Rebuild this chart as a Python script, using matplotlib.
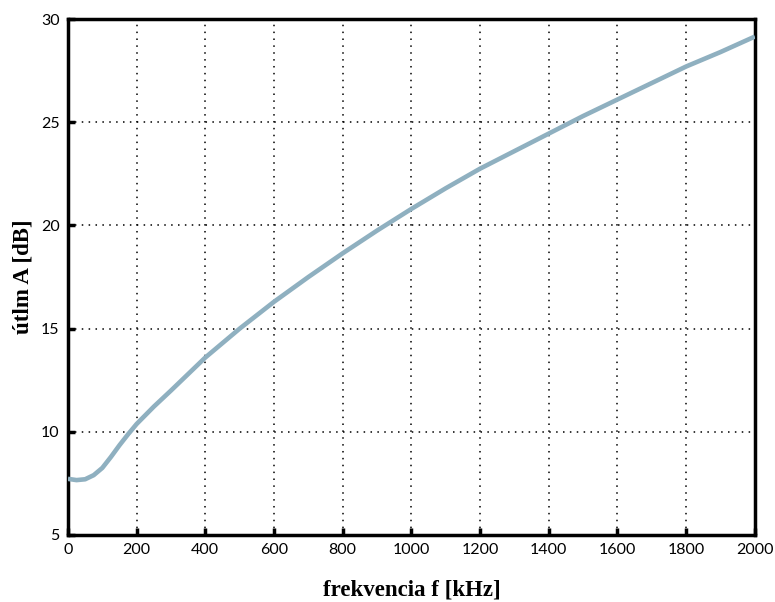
import matplotlib
matplotlib.use("Agg")
import matplotlib.pyplot as plt

freq_khz = [0, 25, 50, 75, 100, 125, 150, 175, 200, 250, 300, 400, 500, 600, 700, 800,
            900, 1000, 1100, 1200, 1300, 1400, 1500, 1600, 1700, 1800, 1900, 2000]
attenuation_db = [7.72, 7.66, 7.7, 7.9, 8.25, 8.78, 9.35, 9.88, 10.38, 11.22, 12.0, 13.6, 15.0,
                  16.3, 17.5, 18.65, 19.75, 20.8, 21.8, 22.75, 23.6, 24.45, 25.3, 26.1,
                  26.9, 27.7, 28.4, 29.15]
x_ticks = [0, 200, 400, 600, 800, 1000, 1200, 1400, 1600, 1800, 2000]
y_ticks = [5, 10, 15, 20, 25, 30]

fig = plt.figure(figsize=(7.75, 6.02), dpi=100)
ax = fig.add_axes([0.0877, 0.1113, 0.974 - 0.0877, 0.9684 - 0.1113])
ax.plot(freq_khz, attenuation_db, color="#8fb0c0", lw=3.3, solid_capstyle="butt",
        solid_joinstyle="round", zorder=3)
ax.set_xlim(0, 2000)
ax.set_ylim(5, 30)
ax.set_xticks(x_ticks)
ax.set_yticks(y_ticks)
ax.grid(True, color="black", linestyle=(0, (1, 3.5)), linewidth=1.1)
for s in ax.spines.values():
    s.set_linewidth(2.5)
ax.tick_params(direction="in", length=5, width=2.5, labelsize=11.5, pad=6,
               top=False, right=False)
for lab in ax.get_xticklabels() + ax.get_yticklabels():
    lab.set_fontfamily("Lato")
ax.set_xlabel("frekvencia f [kHz]", fontfamily="Liberation Serif", fontweight="bold",
              fontsize=16.5, labelpad=16)
ax.set_ylabel("útlm A [dB]", fontfamily="Liberation Serif", fontweight="bold",
              fontsize=16.5, labelpad=5)
fig.savefig("out.png", dpi=100)
